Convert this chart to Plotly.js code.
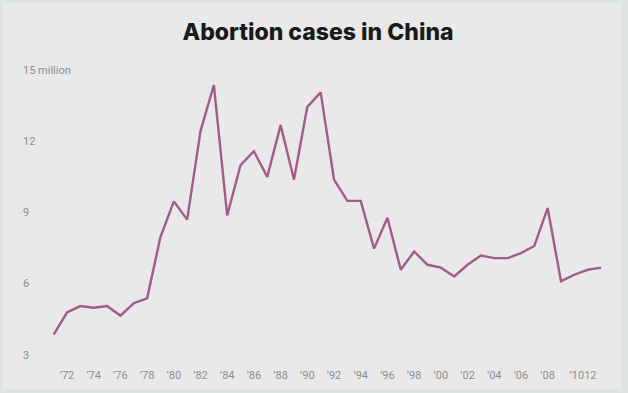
<!DOCTYPE html>
<html>
<head>
<meta charset="utf-8">
<script src="https://cdn.plot.ly/plotly-3.0.1.min.js"></script>
<style>
  html, body { margin: 0; padding: 0; background: #dde3e1; width: 628px; height: 393px; overflow: hidden; }
  #chart { position: absolute; left: 2px; top: 3px; width: 620px; height: 386px; }
</style>
</head>
<body>
<div id="chart"></div>
<script>
// Abortion cases in China, millions
const years = [1971,1972,1973,1974,1975,1976,1977,1978,1979,1980,
               1981,1982,1983,1984,1985,1986,1987,1988,1989,1990,
               1991,1992,1993,1994,1995,1996,1997,1998,1999,2000,
               2001,2002,2003,2004,2005,2006,2007,2008,2009,2010,
               2011,2012];
const abortions = [3.86,4.79,5.06,4.99,5.06,4.66,5.18,5.39,7.97,9.47,
                   8.70,12.43,14.37,8.88,11.00,11.58,10.50,12.68,10.39,13.45,
                   14.06,10.39,9.49,9.49,7.48,8.78,6.59,7.36,6.80,6.68,
                   6.31,6.80,7.19,7.08,7.08,7.29,7.59,9.19,6.11,6.38,
                   6.59,6.68];

const xTickVals = [1972,1974,1976,1978,1980,1982,1984,1986,1988,1990,
                   1992,1994,1996,1998,2000,2002,2004,2006,2008,2010.65];
const xTickText = ["’72","’74","’76","’78","’80","’82","’84","’86","’88","’90",
                   "’92","’94","’96","’98","’00","’02","’04","’06","’08","’1012"];
const yTickVals = [3,6,9,12,15];
const yTickText = ["3","6","9","12","15 million"];

const tickFont = { family: 'Roboto, sans-serif', size: 11, color: '#8e8e8e' };

const trace = {
  x: years,
  y: abortions,
  type: 'scatter',
  mode: 'lines',
  line: { color: '#a25c88', width: 2.4 },
  hoverinfo: 'skip'
};

const yLabels = yTickVals.map((v, i) => ({
  xref: 'paper', yref: 'y',
  x: 0, y: v,
  xanchor: 'left', yanchor: 'middle',
  xshift: 1,
  text: yTickText[i],
  showarrow: false,
  font: tickFont
}));

const layout = {
  width: 620,
  height: 386,
  paper_bgcolor: '#e9e9e9',
  plot_bgcolor: '#e9e9e9',
  margin: { l: 18, r: 10, t: 59, b: 22 },
  showlegend: false,
  title: {
    text: 'Abortion cases in China',
    font: { family: 'Inter, Roboto, sans-serif', size: 23, weight: 800, color: '#1a1a1a' },
    xref: 'container', yref: 'container',
    x: 0.5097, y: 0.925, xanchor: 'center', yanchor: 'middle'
  },
  xaxis: {
    range: [1968.48, 2012.82],
    tickmode: 'array',
    tickvals: xTickVals,
    ticktext: xTickText,
    showgrid: false,
    zeroline: false,
    showline: false,
    ticks: '',
    tickfont: tickFont
  },
  yaxis: {
    range: [2.495, 15.34],
    tickmode: 'array',
    tickvals: yTickVals,
    showticklabels: false,
    showgrid: true,
    gridcolor: '#e3e3e3',
    gridwidth: 1,
    zeroline: false,
    showline: false,
    ticks: ''
  },
  annotations: yLabels
};

Plotly.newPlot('chart', [trace], layout, { staticPlot: true, displayModeBar: false });
</script>
</body>
</html>
